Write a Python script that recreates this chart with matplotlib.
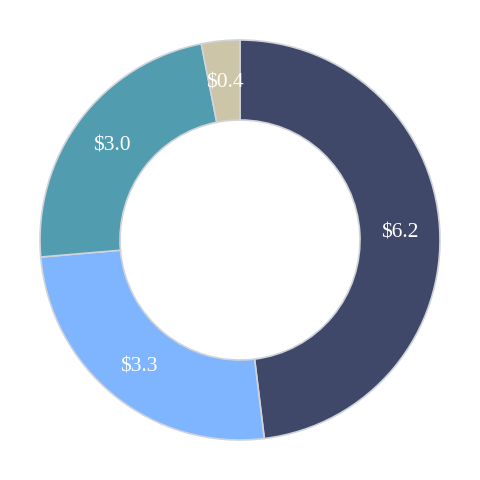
import matplotlib
matplotlib.use("Agg")
from matplotlib import pyplot as plt
import numpy as np

values = [6.2, 3.3, 3.0, 0.4]
labels = ["$6.2", "$3.3", "$3.0", "$0.4"]
colors = ["#3f4868", "#7fb4ff", "#529cb0", "#cdc5a7"]

plt.rcParams["font.family"] = ["Liberation Serif", "DejaVu Serif"]

fig = plt.figure(figsize=(4.8, 4.8), dpi=100)
ax = fig.add_axes([0, 0, 1, 1])

wedges, texts = ax.pie(values, colors=colors, startangle=90, counterclock=False,
                       radius=1.0,
                       wedgeprops=dict(width=0.4, edgecolor="#d0d4da", linewidth=1.2))

# labels in the middle of the ring
total = sum(values)
angle = 90.0
for v, lab in zip(values, labels):
    sweep = v / total * 360
    mid = np.deg2rad(angle - sweep / 2)
    angle -= sweep
    ax.text(0.8 * np.cos(mid), 0.8 * np.sin(mid) - 0.012, lab, ha="center", va="center",
            color="white", fontsize=15.5)

ax.set_xlim(-1.2, 1.2)
ax.set_ylim(-1.2, 1.2)
ax.set_aspect("equal")
ax.axis("off")

fig.savefig("out.png", dpi=100)
